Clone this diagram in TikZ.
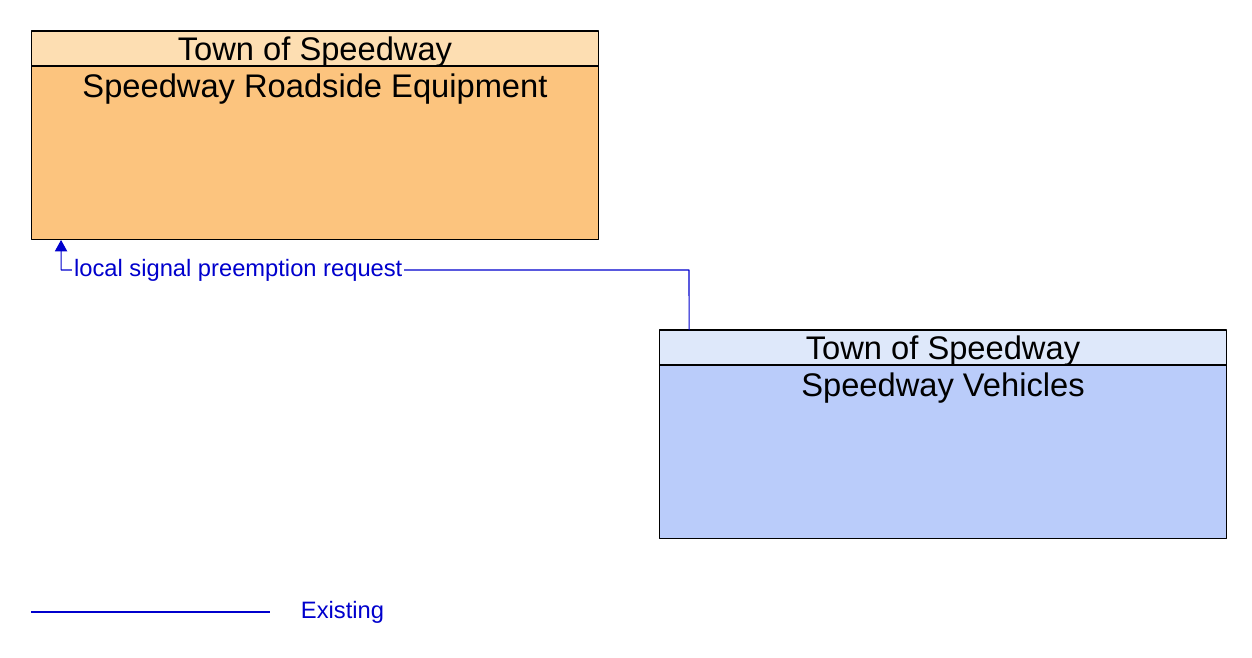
\documentclass[tikz,border=0pt]{standalone}
\usepackage{fontspec}
\setmainfont{Liberation Sans}
\usetikzlibrary{positioning,arrows.meta}
\definecolor{flowblue}{RGB}{0,0,205}
\definecolor{rsehead}{RGB}{253,222,178}
\definecolor{rsebody}{RGB}{252,196,126}
\definecolor{vehhead}{RGB}{222,232,250}
\definecolor{vehbody}{RGB}{186,204,250}
\tikzset{
  boxhead/.style={draw=black, line width=0.6pt, outer sep=0pt, minimum width=11.36cm, minimum height=0.7cm, inner sep=0pt, text depth=0pt, font=\fontsize{18.6}{20}\selectfont},
  boxbody/.style={draw=black, line width=0.6pt, outer sep=0pt, minimum width=11.36cm, minimum height=3.48cm, inner sep=0pt},
  boxtitle/.style={anchor=north, inner sep=0pt, yshift=-0.14cm, font=\fontsize{18.6}{20}\selectfont},
  flow/.style={draw=flowblue, line width=0.6pt},
  flowtext/.style={text=flowblue, font=\fontsize{13.5}{15}\selectfont, fill=white, inner sep=1pt},
}
\begin{document}
\begin{tikzpicture}[x=0.02cm, y=-0.02cm, line join=round, >={Triangle[width=7pt,length=6.5pt]}]
\useasboundingbox (0,0) rectangle (1252,658);
% roadside equipment
\node[boxhead, fill=rsehead] (rseH) at (315,48.5) {Town of Speedway};
\node[boxbody, fill=rsebody, below=0pt of rseH, label={[boxtitle]north:Speedway Roadside Equipment}] (rse) {};
% vehicles
\node[boxhead, fill=vehhead] (vehH) at (943,347.5) {Town of Speedway};
\node[boxbody, fill=vehbody, below=0pt of vehH, label={[boxtitle]north:Speedway Vehicles}] (veh) {};
% flow
\coordinate (bend) at (689,270);
\draw[flow,->] ([xshift=0.6cm]vehH.north west) -- (bend) -| ([xshift=0.6cm]rse.south west);
\node[flowtext, anchor=west] (flowlbl) at (72,270) {local signal preemption request};
% legend
\coordinate (legA) at (31,612);
\coordinate (legB) at (270,612);
\draw[flow] (legA) -- (legB);
\node[flowtext] (legtxt) at (342.5,612) {Existing};
\end{tikzpicture}
\end{document}
